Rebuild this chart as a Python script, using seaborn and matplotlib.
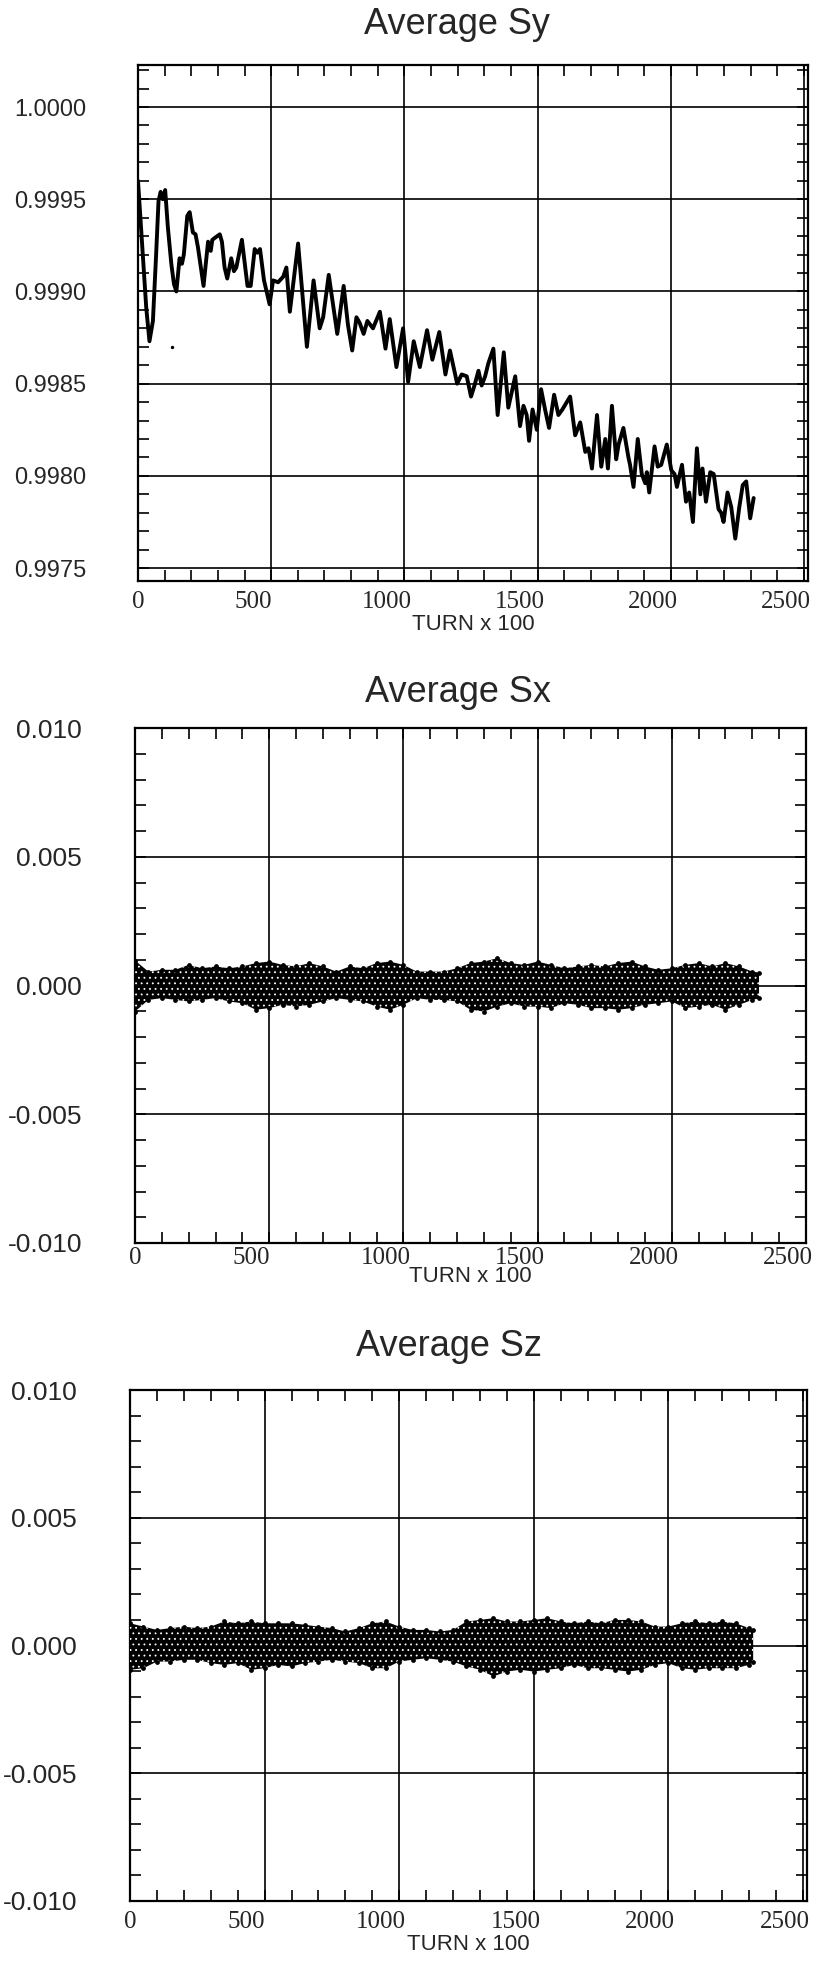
#-- Average spin components vs turn number --#

import numpy as np
import matplotlib
matplotlib.use('Agg')
import matplotlib.pyplot as plt
import matplotlib.transforms as mtransforms
import seaborn as sns
from matplotlib.ticker import MultipleLocator, FixedLocator, FormatStrFormatter

# Average Sy (turn x 100, value)
sy_turn = [0, 18, 31, 43, 56, 68, 77, 85, 93, 102, 112, 125, 135, 144, 156, 165, 172, 185, 194,
           206, 216, 225, 246, 263, 273, 279, 288, 307, 315, 325, 335, 350, 360, 369, 390, 411,
           423, 438, 448, 458, 473, 494, 507, 526, 545, 557, 570, 601, 634, 659, 682, 695, 716,
           748, 772, 788, 804, 820, 832, 847, 861, 882, 908, 929, 945, 970, 995, 1014, 1035,
           1058, 1085, 1105, 1131, 1154, 1171, 1198, 1215, 1234, 1250, 1263, 1278, 1290, 1303,
           1315, 1334, 1350, 1373, 1390, 1416, 1434, 1447, 1459, 1468, 1481, 1497, 1513, 1528,
           1543, 1562, 1578, 1593, 1622, 1641, 1660, 1679, 1691, 1704, 1723, 1739, 1754, 1764,
           1779, 1795, 1804, 1822, 1841, 1847, 1860, 1876, 1891, 1904, 1910, 1919, 1939, 1951,
           1964, 1985, 2002, 2014, 2023, 2042, 2057, 2069, 2083, 2098, 2111, 2119, 2132, 2148,
           2161, 2179, 2189, 2198, 2213, 2227, 2242, 2257, 2270, 2283, 2298, 2311]
sy_val = [0.99960, 0.99920, 0.99891, 0.99873, 0.99884, 0.99920, 0.99949, 0.99954, 0.99950,
          0.99955, 0.99935, 0.99915, 0.99904, 0.99900, 0.99918, 0.99915, 0.99920, 0.99941,
          0.99943, 0.99932, 0.99931, 0.99924, 0.99903, 0.99927, 0.99922, 0.99928, 0.99929,
          0.99931, 0.99927, 0.99913, 0.99907, 0.99918, 0.99911, 0.99913, 0.99928, 0.99903,
          0.99903, 0.99923, 0.99921, 0.99923, 0.99906, 0.99893, 0.99906, 0.99905, 0.99908,
          0.99913, 0.99889, 0.99926, 0.99870, 0.99906, 0.99880, 0.99886, 0.99909, 0.99877,
          0.99903, 0.99882, 0.99868, 0.99886, 0.99883, 0.99877, 0.99884, 0.99880, 0.99889,
          0.99869, 0.99885, 0.99859, 0.99880, 0.99851, 0.99873, 0.99859, 0.99879, 0.99863,
          0.99878, 0.99855, 0.99868, 0.99850, 0.99855, 0.99854, 0.99843, 0.99849, 0.99857,
          0.99849, 0.99854, 0.99861, 0.99869, 0.99833, 0.99867, 0.99837, 0.99854, 0.99827,
          0.99838, 0.99833, 0.99819, 0.99836, 0.99825, 0.99847, 0.99836, 0.99826, 0.99844,
          0.99833, 0.99836, 0.99843, 0.99822, 0.99829, 0.99813, 0.99815, 0.99804, 0.99833,
          0.99805, 0.99820, 0.99804, 0.99838, 0.99809, 0.99817, 0.99826, 0.99810, 0.99806,
          0.99794, 0.99820, 0.99801, 0.99796, 0.99802, 0.99791, 0.99816, 0.99805, 0.99806,
          0.99817, 0.99803, 0.99801, 0.99794, 0.99806, 0.99786, 0.99791, 0.99775, 0.99815,
          0.99790, 0.99804, 0.99786, 0.99802, 0.99801, 0.99782, 0.99780, 0.99775, 0.99791,
          0.99783, 0.99766, 0.99783, 0.99795, 0.99797, 0.99777, 0.99788]
stray_turn = [126]
stray_val = [0.99870]

# Sx / Sz scatter band: upper and lower edge of the dots (units of 1e-4), every 50 turns x 100
band_turn = list(range(0, 2301, 50))
sx_turn = band_turn + [2325]
sx_hi = [9.7, 5.4, 6.1, 6.1, 8.0, 6.7, 7.4, 6.7, 7.4, 8.7, 9.3, 8.0, 7.4, 8.7, 7.4, 5.4, 7.4, 6.7,
         8.7, 9.3, 8.0, 5.4, 5.4, 5.4, 6.7, 8.7, 9.3, 10.6, 8.7, 8.0, 9.3, 8.0, 6.7, 7.4, 8.0, 7.4,
         8.7, 9.3, 7.4, 6.1, 6.7, 8.0, 8.7, 7.4, 8.7, 7.4, 5.4, 5.0]
sx_lo = [10.1, 5.6, 4.9, 5.6, 6.2, 5.6, 4.9, 6.2, 6.9, 9.4, 8.8, 7.5, 8.2, 7.5, 6.2, 4.9, 5.6, 6.2,
         8.2, 9.4, 7.5, 4.9, 5.6, 5.6, 6.2, 9.4, 10.1, 8.2, 6.9, 8.2, 8.2, 8.8, 6.9, 7.5, 8.8, 8.8,
         9.4, 8.8, 7.5, 6.9, 6.2, 8.8, 8.2, 7.5, 9.4, 7.5, 5.6, 5.0]
sz_turn = band_turn + [2315]
sz_hi = [8.7, 7.4, 6.1, 6.8, 7.4, 6.8, 7.4, 9.4, 8.7, 9.4, 8.7, 8.7, 8.7, 8.1, 7.4, 6.8, 5.5, 6.8,
         8.7, 9.4, 7.4, 6.1, 6.1, 5.5, 6.1, 9.4, 10.0, 10.7, 9.4, 9.4, 10.0, 10.7, 9.4, 8.7, 9.4,
         8.7, 10.0, 10.0, 9.4, 7.4, 7.4, 8.7, 9.4, 8.7, 9.4, 8.7, 6.8, 6.0]
sz_lo = [9.5, 8.9, 6.3, 6.3, 5.6, 5.6, 6.9, 7.6, 6.9, 9.5, 8.9, 7.6, 8.2, 6.9, 6.3, 5.6, 6.3, 6.9,
         8.9, 8.9, 6.3, 5.6, 5.0, 5.6, 6.3, 8.2, 9.5, 12.1, 10.2, 9.5, 10.2, 9.5, 8.9, 7.6, 8.9,
         8.9, 9.5, 10.2, 9.5, 7.6, 6.9, 8.9, 9.5, 8.9, 8.9, 8.9, 7.6, 6.5]

turn_ticks = [0, 500, 1000, 1500, 2000, 2500]

sns.set_style('ticks')
plt.rcParams['font.family'] = ['Liberation Sans', 'DejaVu Sans']
plt.rcParams['hatch.linewidth'] = 0.6

W, H = 819, 1962
fig = plt.figure(figsize=(W / 100, H / 100), dpi=100)


def frame(ax, xmax, ylim, major, minor, fmt, ysize, ypad, xpad, labpad):
    ax.set_xlim(0, xmax)
    ax.set_ylim(*ylim)
    ax.xaxis.set_major_locator(FixedLocator(turn_ticks))
    ax.xaxis.set_minor_locator(MultipleLocator(100))
    ax.yaxis.set_major_locator(MultipleLocator(major))
    ax.yaxis.set_minor_locator(MultipleLocator(minor))
    ax.yaxis.set_major_formatter(FormatStrFormatter(fmt))
    ax.grid(True, which='major', color='black', lw=1.2)
    ax.tick_params(which='both', direction='in', top=True, right=True, width=1.2, length=8,
                   color='black')
    ax.tick_params(axis='y', which='major', pad=ypad, labelsize=ysize)
    ax.tick_params(axis='x', which='major', pad=xpad, labelsize=18)
    for s in ax.spines.values():
        s.set_linewidth(1.6)
        s.set_color('black')
    ax.set_xlabel('TURN x 100', fontsize=16, labelpad=labpad)
    ax.set_ylabel('')
    # the printed numbers sit a bit left of their grid lines
    shift = mtransforms.ScaledTranslation(-18 / 100, 0, fig.dpi_scale_trans)
    for t, tk in zip(turn_ticks, ax.xaxis.get_major_ticks()):
        tk.label1.set_family('Liberation Serif')
        if t > 0:
            tk.label1.set_transform(tk.label1.get_transform() + shift)


def band(ax, turn, hi, lo):
    top = np.array(hi) * 1e-4
    bot = -np.array(lo) * 1e-4
    ax.fill_between(turn, bot, top, facecolor='black', edgecolor='white', hatch='...',
                    linewidth=0, zorder=3)
    sns.scatterplot(x=turn + turn, y=list(top) + list(bot), color='black', s=12,
                    linewidth=0, ax=ax, zorder=4)


# --- Average Sy ---
ax1 = fig.add_axes([138 / W, 1 - 581 / H, 670 / W, 516 / H])
sns.lineplot(x=sy_turn, y=sy_val, color='black', lw=2.8, ax=ax1, zorder=3)
sns.scatterplot(x=stray_turn, y=stray_val, color='black', s=6, linewidth=0, ax=ax1)
frame(ax1, 2515, (0.99743, 1.000228), 0.0005, 0.0001, '%.4f', 17, 37, 7, 1)
fig.text(457 / W, 1 - 24 / H, 'Average Sy', fontsize=26, ha='center', va='center')

# --- Average Sx ---
ax2 = fig.add_axes([135 / W, 1 - 1243 / H, 671 / W, 515 / H])
band(ax2, sx_turn, sx_hi, sx_lo)
frame(ax2, 2500, (-0.010, 0.010), 0.005, 0.001, '%.3f', 19, 38, 3, -2)
fig.text(458 / W, 1 - 693 / H, 'Average Sx', fontsize=26, ha='center', va='center')

# --- Average Sz ---
ax3 = fig.add_axes([130 / W, 1 - 1901 / H, 677 / W, 511 / H])
band(ax3, sz_turn, sz_hi, sz_lo)
frame(ax3, 2515, (-0.010, 0.010), 0.005, 0.001, '%.3f', 19, 38, 7, 1)
fig.text(449 / W, 1 - 1347 / H, 'Average Sz', fontsize=26, ha='center', va='center')

fig.savefig('out.png', dpi=100, facecolor='white')
